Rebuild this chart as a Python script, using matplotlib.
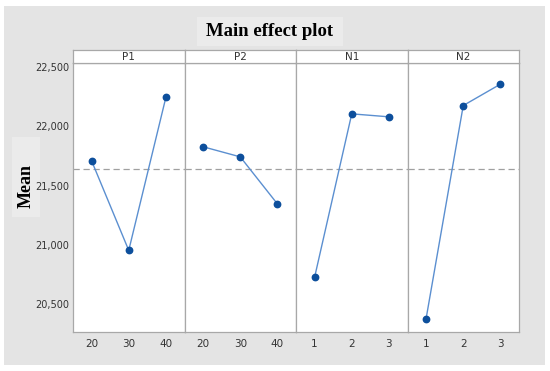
import matplotlib.pyplot as plt
from matplotlib.patches import Rectangle

# factor levels and mean responses
factors = ['P1', 'P2', 'N1', 'N2']
levels = {
    'P1': ['20', '30', '40'],
    'P2': ['20', '30', '40'],
    'N1': ['1', '2', '3'],
    'N2': ['1', '2', '3'],
}
means = {
    'P1': [21709, 20955, 22244],
    'P2': [21827, 21742, 21346],
    'N1': [20728, 22104, 22079],
    'N2': [20380, 22174, 22354],
}
grand_mean = 21638
yticks = [20500, 21000, 21500, 22000, 22500]

W, H = 550, 371
fig = plt.figure(figsize=(W / 100, H / 100), dpi=100)
fig.patch.set_facecolor('white')

def px(x0, y0, x1, y1):  # pixel box -> figure fraction
    return [x0 / W, 1 - y1 / H, (x1 - x0) / W, (y1 - y0) / H]

# grey frame behind everything, lighter boxes behind title and y label
for (x0, y0, w, h, c) in [(4, 6, 541, 359, '#e4e4e4'),
                          (197, 17, 146, 29, '#ebebeb'),
                          (12, 137, 28, 80, '#ebebeb')]:
    fig.patches.append(Rectangle((x0 / W, 1 - (y0 + h) / H), w / W, h / H,
                                 transform=fig.transFigure, facecolor=c,
                                 edgecolor='none', zorder=-5))

fig.text(270 / W, 1 - 31 / H, 'Main effect plot', ha='center', va='center',
         fontsize=13.5, fontweight='bold', family='Liberation Serif')
fig.text(26 / W, 1 - 186 / H, 'Mean', ha='center', va='center', rotation=90,
         fontsize=13, fontweight='bold', family='Liberation Serif')

edges = [73, 184.5, 296, 407.5, 519]
spine_col = '#a8a8a8'
txt_col = '#333333'

for i, f in enumerate(factors):
    ax = fig.add_axes(px(edges[i], 63, edges[i + 1], 332))
    x = [1, 2, 3]
    ax.axhline(grand_mean, color='#a0a0a0', lw=0.9, ls=(0, (5, 3)), zorder=1)
    ax.plot(x, means[f], color='#5b8fd0', lw=1.0, zorder=2)
    ax.plot(x, means[f], 'o', color='#0d4f9c', ms=4.6, zorder=3)
    ax.set_xlim(0.5, 3.5)
    ax.set_ylim(20268, 22532)
    ax.set_xticks(x)
    ax.set_xticklabels(levels[f])
    ax.set_yticks(yticks)
    if i == 0:
        ax.set_yticklabels([f'{v:,}' for v in yticks])
    else:
        ax.set_yticklabels([])
    ax.tick_params(axis='x', length=0, labelsize=7.5, colors=txt_col, pad=5)
    ax.tick_params(axis='y', length=0, labelsize=7, colors=txt_col, pad=2.5)
    for s in ax.spines.values():
        s.set_color(spine_col)
        s.set_linewidth(0.9)

    sx = fig.add_axes(px(edges[i], 50, edges[i + 1], 63))
    sx.set_xticks([])
    sx.set_yticks([])
    sx.set_facecolor('white')
    for s in sx.spines.values():
        s.set_color(spine_col)
        s.set_linewidth(0.9)
    sx.text(0.5, 0.5, f, ha='center', va='center', fontsize=7.5,
            color=txt_col, transform=sx.transAxes)

fig.savefig('out.png', dpi=100)
